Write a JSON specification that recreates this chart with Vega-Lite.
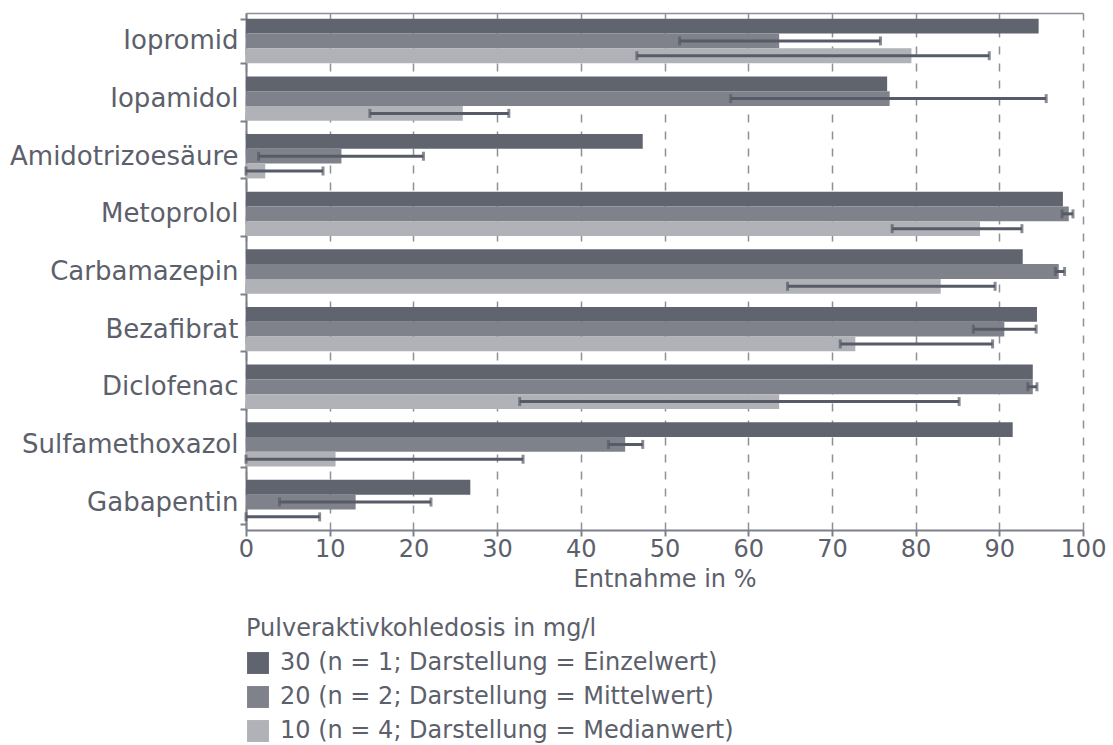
{
  "$schema": "https://vega.github.io/schema/vega-lite/v6.json",
  "width": 837,
  "height": 517,
  "autosize": {"type": "pad"},
  "padding": {"left": 9, "top": 0, "right": 10, "bottom": 0},
  "background": "white",
  "config": {
    "font": "DejaVu Sans",
    "view": {"stroke": null},
    "axis": {"labelColor": "#5c606b", "titleColor": "#5c606b", "labelFontSize": 24, "titleFontSize": 24, "titleFontWeight": "normal", "domainColor": "#7d8089", "tickColor": "#7d8089", "domainWidth": 2, "tickWidth": 2}
  },
  "data": {
    "values": [
      {"substance": "Iopromid", "dose": "30 (n = 1; Darstellung = Einzelwert)", "value": 94.7},
      {"substance": "Iopromid", "dose": "20 (n = 2; Darstellung = Mittelwert)", "value": 63.7, "low": 51.8, "high": 75.8},
      {"substance": "Iopromid", "dose": "10 (n = 4; Darstellung = Medianwert)", "value": 79.5, "low": 46.7, "high": 88.8},
      {"substance": "Iopamidol", "dose": "30 (n = 1; Darstellung = Einzelwert)", "value": 76.6},
      {"substance": "Iopamidol", "dose": "20 (n = 2; Darstellung = Mittelwert)", "value": 76.9, "low": 57.9, "high": 95.6},
      {"substance": "Iopamidol", "dose": "10 (n = 4; Darstellung = Medianwert)", "value": 25.9, "low": 14.8, "high": 31.4},
      {"substance": "Amidotrizoesäure", "dose": "30 (n = 1; Darstellung = Einzelwert)", "value": 47.4},
      {"substance": "Amidotrizoesäure", "dose": "20 (n = 2; Darstellung = Mittelwert)", "value": 11.4, "low": 1.5, "high": 21.2},
      {"substance": "Amidotrizoesäure", "dose": "10 (n = 4; Darstellung = Medianwert)", "value": 2.3, "low": 0, "high": 9.2},
      {"substance": "Metoprolol", "dose": "30 (n = 1; Darstellung = Einzelwert)", "value": 97.6},
      {"substance": "Metoprolol", "dose": "20 (n = 2; Darstellung = Mittelwert)", "value": 98.3, "low": 97.5, "high": 98.8},
      {"substance": "Metoprolol", "dose": "10 (n = 4; Darstellung = Medianwert)", "value": 87.7, "low": 77.2, "high": 92.7},
      {"substance": "Carbamazepin", "dose": "30 (n = 1; Darstellung = Einzelwert)", "value": 92.8},
      {"substance": "Carbamazepin", "dose": "20 (n = 2; Darstellung = Mittelwert)", "value": 97.1, "low": 96.7, "high": 97.8},
      {"substance": "Carbamazepin", "dose": "10 (n = 4; Darstellung = Medianwert)", "value": 83.0, "low": 64.7, "high": 89.5},
      {"substance": "Bezafibrat", "dose": "30 (n = 1; Darstellung = Einzelwert)", "value": 94.5},
      {"substance": "Bezafibrat", "dose": "20 (n = 2; Darstellung = Mittelwert)", "value": 90.6, "low": 86.9, "high": 94.4},
      {"substance": "Bezafibrat", "dose": "10 (n = 4; Darstellung = Medianwert)", "value": 72.8, "low": 71.0, "high": 89.2},
      {"substance": "Diclofenac", "dose": "30 (n = 1; Darstellung = Einzelwert)", "value": 94.0},
      {"substance": "Diclofenac", "dose": "20 (n = 2; Darstellung = Mittelwert)", "value": 94.0, "low": 93.4, "high": 94.5},
      {"substance": "Diclofenac", "dose": "10 (n = 4; Darstellung = Medianwert)", "value": 63.7, "low": 32.7, "high": 85.2},
      {"substance": "Sulfamethoxazol", "dose": "30 (n = 1; Darstellung = Einzelwert)", "value": 91.6},
      {"substance": "Sulfamethoxazol", "dose": "20 (n = 2; Darstellung = Mittelwert)", "value": 45.3, "low": 43.3, "high": 47.4},
      {"substance": "Sulfamethoxazol", "dose": "10 (n = 4; Darstellung = Medianwert)", "value": 10.7, "low": 0, "high": 33.1},
      {"substance": "Gabapentin", "dose": "30 (n = 1; Darstellung = Einzelwert)", "value": 26.8},
      {"substance": "Gabapentin", "dose": "20 (n = 2; Darstellung = Mittelwert)", "value": 13.1, "low": 4.0, "high": 22.1},
      {"substance": "Gabapentin", "dose": "10 (n = 4; Darstellung = Medianwert)", "value": 0, "low": 0, "high": 8.8}
    ]
  },
  "encoding": {
    "y": {
      "field": "substance", "type": "nominal",
      "sort": ["Iopromid", "Iopamidol", "Amidotrizoesäure", "Metoprolol", "Carbamazepin", "Bezafibrat", "Diclofenac", "Sulfamethoxazol", "Gabapentin"],
      "scale": {"paddingInner": 0.23, "paddingOuter": 0.1},
      "axis": {"title": null, "tickBand": "extent", "tickSize": 6, "labelPadding": 2, "grid": false, "labelLimit": 400, "labelFontSize": 26}
    },
    "yOffset": {
      "field": "dose", "type": "nominal",
      "sort": ["30 (n = 1; Darstellung = Einzelwert)", "20 (n = 2; Darstellung = Mittelwert)", "10 (n = 4; Darstellung = Medianwert)"]
    }
  },
  "layer": [
    {
      "mark": {"type": "bar"},
      "encoding": {
        "x": {
          "field": "value", "type": "quantitative",
          "scale": {"domain": [0, 100], "nice": false},
          "axis": {"title": "Entnahme in %", "values": [0,10,20,30,40,50,60,70,80,90,100], "labelOverlap": false, "labelFlush": false, "grid": true, "gridDash": [8, 9], "gridColor": "#8d9099", "gridWidth": 1.5, "tickSize": 6, "labelPadding": 1, "titlePadding": 6}
        },
        "color": {
          "field": "dose", "type": "nominal",
          "sort": ["30 (n = 1; Darstellung = Einzelwert)", "20 (n = 2; Darstellung = Mittelwert)", "10 (n = 4; Darstellung = Medianwert)"],
          "scale": {"range": ["#60646f", "#7f828a", "#b1b2b7"]},
          "legend": {"title": "Pulveraktivkohledosis in mg/l", "orient": "bottom", "direction": "vertical", "titleFontSize": 24, "titleFontWeight": "normal", "titleColor": "#5c606b", "titleLimit": 700, "labelFontSize": 24, "labelColor": "#5c606b", "symbolType": "square", "symbolSize": 480, "symbolStrokeWidth": 0, "rowPadding": 10, "titlePadding": 10, "labelOffset": 10, "labelLimit": 700, "offset": 26}
        }
      }
    },
    {
      "mark": {"type": "rule", "color": "#565b67", "strokeWidth": 3},
      "encoding": {
        "x": {"field": "low", "type": "quantitative", "axis": {"orient": "top", "labels": false, "ticks": false, "grid": false, "title": null, "domain": true, "domainColor": "#8d9099", "domainWidth": 1.5}},
        "x2": {"field": "high"}
      }
    },
    {
      "mark": {"type": "tick", "color": "#565b67", "thickness": 3, "size": 9},
      "encoding": {"x": {"field": "low", "type": "quantitative", "axis": null}}
    },
    {
      "mark": {"type": "tick", "color": "#565b67", "thickness": 3, "size": 9},
      "encoding": {"x": {"field": "high", "type": "quantitative", "axis": null}}
    }
  ],
  "resolve": {"axis": {"x": "independent"}}
}
